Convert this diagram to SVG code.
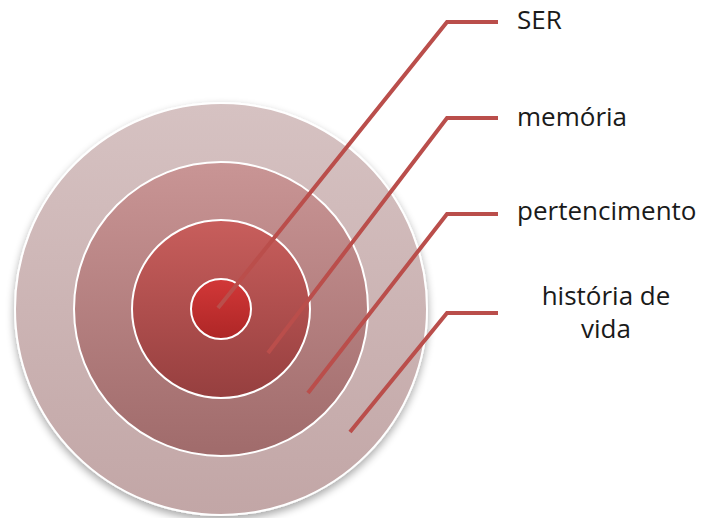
<svg xmlns="http://www.w3.org/2000/svg" width="702" height="518" viewBox="0 0 702 518">
<defs>
<linearGradient id="g1" x1="0" y1="0" x2="0" y2="1"><stop offset="0" stop-color="#D6C2C2"/><stop offset="1" stop-color="#C2A6A6"/></linearGradient>
<linearGradient id="g2" x1="0" y1="0" x2="0" y2="1"><stop offset="0" stop-color="#C99595"/><stop offset="1" stop-color="#A06B6B"/></linearGradient>
<linearGradient id="g3" x1="0" y1="0" x2="0" y2="1"><stop offset="0" stop-color="#C85E5C"/><stop offset="1" stop-color="#963F3F"/></linearGradient>
<linearGradient id="g4" x1="0" y1="0" x2="0" y2="1"><stop offset="0" stop-color="#D23838"/><stop offset="1" stop-color="#AE2626"/></linearGradient>
<filter id="sh" x="-20%" y="-20%" width="140%" height="140%"><feGaussianBlur in="SourceAlpha" stdDeviation="4"/><feOffset dy="4"/><feComponentTransfer><feFuncA type="linear" slope="0.35"/></feComponentTransfer><feMerge><feMergeNode/><feMergeNode in="SourceGraphic"/></feMerge></filter>
</defs>
<style>
.ring{stroke:#ffffff;stroke-width:2}
.con{fill:none;stroke:#BA4E4B;stroke-width:4;stroke-linejoin:miter}
.lbl{font-family:"Open Sans","Liberation Sans",sans-serif;font-size:26px;fill:#1a1a1a}
</style>
<rect width="702" height="518" fill="#ffffff"/>
<g id="ring-historia" filter="url(#sh)"><circle class="ring" cx="221" cy="309" r="206" fill="url(#g1)"/></g>
<g id="ring-pertencimento"><circle class="ring" cx="221" cy="309" r="147" fill="url(#g2)"/></g>
<g id="ring-memoria"><circle class="ring" cx="221" cy="309" r="89" fill="url(#g3)"/></g>
<g id="ring-ser"><circle class="ring" cx="221" cy="309" r="30" fill="url(#g4)"/></g>
<g id="connectors">
<polyline class="con" points="218,308 447,22 498,22"/>
<polyline class="con" points="268,353 447,118 498,118"/>
<polyline class="con" points="308,393 447,214 498,214"/>
<polyline class="con" points="350,432 447,313 498,313"/>
</g>
<g id="label-ser"><text class="lbl" x="517" y="29">SER</text></g>
<g id="label-memoria"><text class="lbl" x="517" y="126">memória</text></g>
<g id="label-pertencimento"><text class="lbl" x="517" y="220">pertencimento</text></g>
<g id="label-historia"><text class="lbl" text-anchor="middle"><tspan x="606" y="305">história de</tspan><tspan x="606" y="338">vida</tspan></text></g>
</svg>
